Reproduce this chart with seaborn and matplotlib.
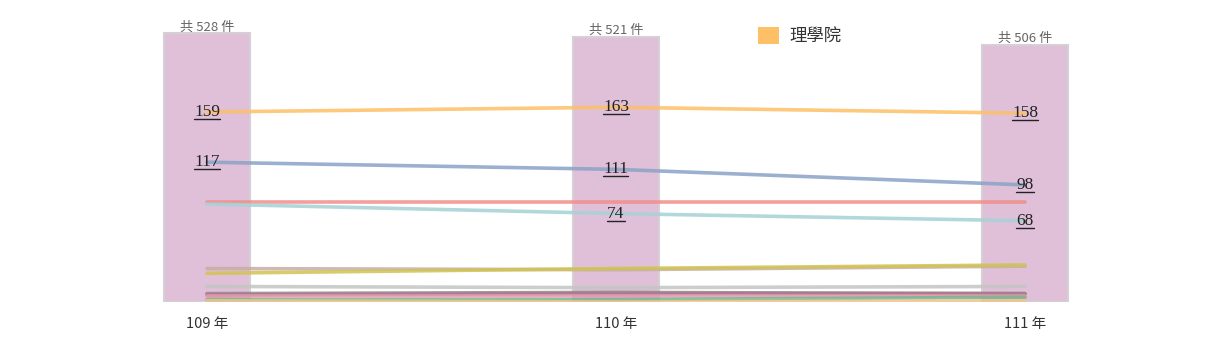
import matplotlib
matplotlib.use("Agg")
import matplotlib.pyplot as plt
import seaborn as sns
import pandas as pd
from matplotlib.patches import Patch
from matplotlib.lines import Line2D

# ---------------- data ----------------
years = ["109 年", "110 年", "111 年"]
totals = [528, 521, 506]

colleges = ["理學院", "工學院", "電機資訊學院", "生命科學院", "管理學院", "文學院",
            "社會科學院", "醫學院", "法律學院", "農學院", "公共衛生學院", "牙醫學院"]
v_sci = [159, 163, 158]
v_eng = [117, 111, 98]
v_eecs = [84, 84, 84]
v_life = [82, 74, 68]
v_mgmt = [28, 27, 30]
v_lib = [24, 28, 31]
v_soc = [13, 12, 13]
v_med = [7, 8, 7]
v_law = [6, 7, 7]
v_agr = [5, 5, 5]
v_ph = [2, 2, 4]
v_dent = [1, 0, 1]
series = [v_sci, v_eng, v_eecs, v_life, v_mgmt, v_lib, v_soc, v_med, v_law, v_agr, v_ph, v_dent]

# which points carry a value label
label_mask = {"理學院": [1, 1, 1], "工學院": [1, 1, 1], "生命科學院": [0, 1, 1]}

colors = ["#fdc066", "#8aa3c6", "#f28e8a", "#a6d2d6", "#c7ada6", "#d1c452",
          "#c3c6c2", "#8e8a8c", "#b07690", "#e59ab0", "#74b78c", "#f2c28e"]

# ---------------- frames ----------------
bar_df = pd.DataFrame({"year": years, "total": totals})
rows = []
for name, vals in zip(colleges, series):
    for i, (y, v) in enumerate(zip(years, vals)):
        rows.append({"college": name, "year": y, "pos": i, "value": v})
line_df = pd.DataFrame(rows)

# ---------------- figure ----------------
sns.set_theme(style="white")
plt.rcParams["font.family"] = ["Noto Sans CJK TC", "DejaVu Sans"]

fig = plt.figure(figsize=(12.31, 3.37), dpi=100)
ax = fig.add_axes([0.002, 0.1039, 0.9968, 0.8665])

sns.barplot(data=bar_df, x="year", y="total", ax=ax, color="#e0bfd8",
            saturation=1, width=0.21, edgecolor="#d4d0d3", linewidth=1.5)
ax.set_ylim(0, 574)
for i, t in enumerate(totals):
    ax.annotate(f"共 {t} 件", xy=(i, t), xytext=(0, 0), textcoords="offset points",
                ha="center", va="bottom", fontsize=9.5, color="#666666")

ax2 = ax.twinx()
sns.lineplot(data=line_df, x="pos", y="value", hue="college", hue_order=colleges,
             palette=colors, ax=ax2, linewidth=2.6, alpha=0.85, legend=False,
             sort=False)
ax2.set_ylim(0, 244.4)

value_texts = []
for name, mask in label_mask.items():
    vals = series[colleges.index(name)]
    for i, (m, v) in enumerate(zip(mask, vals)):
        if m:
            value_texts.append(ax2.text(i, v, f"{v}", ha="center", va="center",
                                        fontsize=12.5, color="#222222",
                                        family="Liberation Serif"))

for a in (ax, ax2):
    for s in a.spines.values():
        s.set_visible(False)
    a.set_ylabel("")
    a.set_xlabel("")
    a.set_yticks([])
    a.grid(False)
ax.set_xticks(range(len(years)), years)
ax.set_xlim(-0.5, 2.5)
ax.tick_params(axis="x", length=0, pad=10.5, labelsize=10.5, labelcolor="#333333",
               labelbottom=True)

fig.legend(handles=[Patch(facecolor=colors[0], edgecolor="none", label=colleges[0])],
           loc="center", bbox_to_anchor=(800 / 1231, 1 - 36 / 337), frameon=False,
           fontsize=12.5, handlelength=1.2, handleheight=1.2, handletextpad=0.6,
           labelcolor="#333333")

# underline the value labels (derived from each text's rendered extent)
fig.canvas.draw()
renderer = fig.canvas.get_renderer()
inv = fig.transFigure.inverted()
for t in value_texts:
    bb = t.get_window_extent(renderer)
    (x0, y0), (x1, _) = inv.transform([(bb.x0, bb.y0 + 1), (bb.x1, bb.y0 + 1)])
    fig.add_artist(Line2D([x0, x1], [y0, y0], transform=fig.transFigure,
                          color="#222222", linewidth=1.0))

fig.savefig("out.png", dpi=100)
